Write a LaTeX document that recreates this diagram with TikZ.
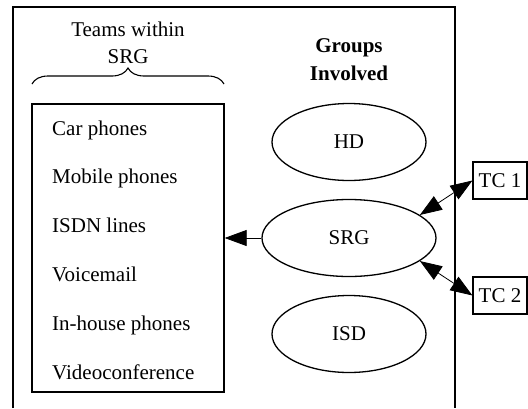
\documentclass[tikz,border=0pt]{standalone}
\usepackage{fontspec}
\setmainfont{Liberation Serif}
\usepackage{tikz}
\usetikzlibrary{shapes.geometric}
\usetikzlibrary{positioning}
\usetikzlibrary{arrows.meta}
\usetikzlibrary{decorations.pathreplacing}
\usetikzlibrary{math}

\tikzset{
  group/.style={draw, line width=1.3pt, ellipse, minimum height=77pt, inner sep=0pt},
  tcbox/.style={draw, line width=1.1pt, rectangle, minimum width=54pt, minimum height=37pt, inner sep=0pt},
  team/.style={anchor=base west, inner sep=0pt},
  head/.tip={Triangle[length=22pt, width=16pt]},
}

\begin{document}
\begin{tikzpicture}[x=1pt, y=-1pt, font=\fontsize{21}{27}\selectfont]
      \tikzmath{
        \fl = 13;
        \fr = 455;
        \ft = 7;
        \bl = 32;
        \br = 224;
        \bt = 104;
        \bb = 392;
        \gx = 349;
        \dy = 48.8;
      }

      \useasboundingbox (0,0) rectangle (528,408);

      \draw[black, line width=1.6pt] (\fl,408) -- (\fl,\ft) -- (\fr,\ft) -- (\fr,408);

      \node[draw, line width=1.3pt, minimum width=\br-\bl, minimum height=\bb-\bt, inner sep=0pt]
        (teams) at ({(\bl+\br)/2}, {(\bt+\bb)/2}) {};
      \foreach \t [count=\i] in {Car phones, Mobile phones, ISDN lines, Voicemail, In-house phones, Videoconference}
        \node[team] (team\i) at (52, {135 + (\i-1)*\dy}) {\t};

      \node[align=center, inner sep=0pt] (title) at ({(\bl+\br)/2}, 43) {Teams within\\SRG};
      \draw[decorate, decoration={brace, amplitude=16pt}, line width=1.1pt] (\bl,84) -- (\br,84);

      \node[align=center, inner sep=0pt, font=\fontsize{21}{28}\selectfont\bfseries] (groups) at (\gx, 60) {Groups\\Involved};

      \node[group, minimum width=154pt] (hd) at (\gx, 142) {HD};
      \node[group, minimum width=174pt] (srg) at (\gx, 238) {SRG};
      \node[group, minimum width=154pt] (isd) at (\gx, 334) {ISD};

      \node[tcbox] (tc1) at (500, 180.5) {TC 1};
      \node[tcbox] (tc2) at (500, 295.5) {TC 2};

      \draw[black, line width=0.8pt, -head] (srg.west) -- (srg.west -| teams.east);
      \draw[black, line width=0.8pt, head-head] (srg.18) -- (tc1.west);
      \draw[black, line width=0.8pt, head-head] (srg.-18) -- (tc2.west);
    \end{tikzpicture}
\end{document}
